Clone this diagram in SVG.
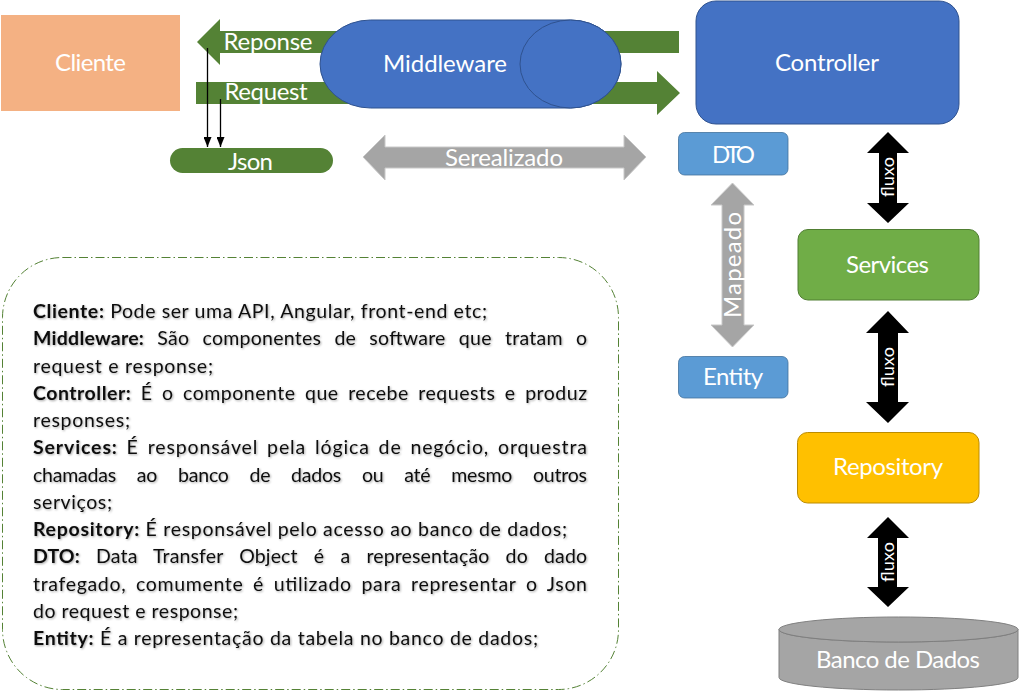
<svg xmlns="http://www.w3.org/2000/svg" width="1021" height="695" viewBox="0 0 1021 695">
<defs>
<style>
.lbl{font-family:Lato,"Open Sans","Liberation Sans",sans-serif;fill:#fff;text-anchor:middle;font-size:24px}
.flx{font-family:Lato,"Open Sans","Liberation Sans",sans-serif;fill:#fff;text-anchor:middle;font-size:18px}
.body{font-family:Lato,"Open Sans","Liberation Sans",sans-serif;fill:#111;font-size:19.5px}
.b{font-weight:bold}
.green{fill:#548235}
.blk{fill:#000}
</style>
<marker id="ah" viewBox="0 0 10 8" refX="10" refY="4" markerWidth="10" markerHeight="8" markerUnits="userSpaceOnUse" orient="auto">
<path d="M0,0 L10,4 L0,8 Z" fill="#000"/>
</marker>
<filter id="sh" x="-5%" y="-5%" width="110%" height="110%">
<feDropShadow dx="1" dy="1" stdDeviation="0.8" flood-color="#000" flood-opacity="0.35"/>
</filter>
</defs>
<rect width="1021" height="695" fill="#fff"/>

<g id="connectors">
<polygon id="reponse-arrow" class="green" points="679,31 220,31 220,19 197,42 220,65 220,53 679,53"/>
<polygon id="request-arrow" class="green" points="196,82 657,82 657,71 680,93 657,115 657,104 196,104"/>
<line x1="207.5" y1="48" x2="207.5" y2="147" stroke="#000" stroke-width="1.3" marker-end="url(#ah)"/>
<line x1="220.5" y1="99" x2="220.5" y2="147" stroke="#000" stroke-width="1.3" marker-end="url(#ah)"/>
<polygon id="serealizado" points="363,157 385,135 385,147 624,147 624,135 646,157 624,180 624,168 385,168 385,180" fill="#A5A5A5" stroke="#C8C8C8" stroke-width="1"/>
<polygon id="mapeado" points="732.5,183 754,205 744,205 744,325 754,325 732.5,347 711,325 722,325 722,205 711,205" fill="#A5A5A5" stroke="#C8C8C8" stroke-width="1"/>
<polygon class="blk" points="888,132 909,153 897,153 897,203 909,203 888,223 867,203 879,203 879,153 867,153"/>
<polygon class="blk" points="888,311 909,333 898,333 898,402 909,402 888,423 866,402 878,402 878,333 866,333"/>
<polygon class="blk" points="888,517 909,538 897,538 897,587 909,587 888,607 867,587 878,587 878,538 867,538"/>
<text class="lbl" x="268" y="50" textLength="89">Reponse</text>
<text class="lbl" x="266" y="100" textLength="83">Request</text>
<text class="lbl" x="504" y="166" textLength="118">Serealizado</text>
<text class="lbl" transform="translate(741,265) rotate(-90)" font-size="27" textLength="106">Mapeado</text>
<text class="flx" transform="translate(894,177) rotate(-90)" textLength="40">fluxo</text>
<text class="flx" transform="translate(894,367) rotate(-90)" textLength="40">fluxo</text>
<text class="flx" transform="translate(894,562) rotate(-90)" textLength="40">fluxo</text>
</g>

<g id="cliente">
<rect x="1" y="15" width="179" height="96" fill="#F4B183"/>
<text class="lbl" x="90.5" y="71" textLength="71">Cliente</text>
</g>

<g id="middleware">
<path d="M370.5,20 L570.5,20 A50.5,44 0 0 1 570.5,108 L370.5,108 A50.5,44 0 0 1 370.5,20 Z" fill="#4472C4" stroke="#2F528F" stroke-width="1"/>
<ellipse cx="570.5" cy="64" rx="50.5" ry="44" fill="#4472C4" stroke="#2F528F" stroke-width="1"/>
<text class="lbl" x="445" y="72" textLength="124">Middleware</text>
</g>

<g id="json">
<rect x="170" y="148" width="163" height="25" rx="12.5" fill="#548235"/>
<text class="lbl" x="250.5" y="170" textLength="45">Json</text>
</g>

<g id="controller">
<rect x="696" y="1" width="263" height="123" rx="20" fill="#4472C4" stroke="#2F528F" stroke-width="1"/>
<text class="lbl" x="827" y="71" textLength="104">Controller</text>
</g>

<g id="dto">
<rect x="678.5" y="132.5" width="109.5" height="42.5" rx="6" fill="#5B9BD5" stroke="#41719C" stroke-width="0.8"/>
<text class="lbl" x="733.5" y="163" textLength="43">DTO</text>
</g>

<g id="entity">
<rect x="678.5" y="356.5" width="109.5" height="41.5" rx="6" fill="#5B9BD5" stroke="#41719C" stroke-width="0.8"/>
<text class="lbl" x="733" y="385" textLength="60">Entity</text>
</g>

<g id="services">
<rect x="798" y="229.5" width="181" height="70.5" rx="10" fill="#70AD47" stroke="#507E32" stroke-width="1"/>
<text class="lbl" x="887.5" y="273" textLength="83">Services</text>
</g>

<g id="repository">
<rect x="797.5" y="432.5" width="181.5" height="70.5" rx="10" fill="#FFC000" stroke="#BC8C00" stroke-width="1"/>
<text class="lbl" x="888" y="475" textLength="110">Repository</text>
</g>

<g id="banco">
<path d="M779,629.5 A119.5,12.5 0 0 0 1018,629.5 L1018,677.5 A119.5,12.5 0 0 1 779,677.5 Z" fill="#A5A5A5" stroke="#7F7F7F" stroke-width="1"/>
<ellipse cx="898.5" cy="629.5" rx="119.5" ry="12.5" fill="#A5A5A5" stroke="#7F7F7F" stroke-width="1"/>
<text class="lbl" x="898" y="668" textLength="164">Banco de Dados</text>
</g>

<g id="legenda">
<rect x="2.5" y="257.5" width="616" height="432" rx="60" fill="#fff" stroke="#548235" stroke-width="1" stroke-dasharray="9 3 1.5 3"/>
<g filter="url(#sh)" class="body">
<text x="33" y="318" textLength="454" lengthAdjust="spacing"><tspan class="b">Cliente:</tspan> Pode ser uma API, Angular, front-end etc;</text>
<text x="33" y="345.25" word-spacing="8" textLength="554" lengthAdjust="spacing"><tspan class="b">Middleware:</tspan> São componentes de software que tratam o</text>
<text x="33" y="372.5" textLength="180" lengthAdjust="spacing">request e response;</text>
<text x="33" y="399.75" word-spacing="4" textLength="554" lengthAdjust="spacing"><tspan class="b">Controller:</tspan> É o componente que recebe requests e produz</text>
<text x="33" y="427" textLength="97" lengthAdjust="spacing">responses;</text>
<text x="33" y="454.25" word-spacing="3" textLength="554" lengthAdjust="spacing"><tspan class="b">Services:</tspan> É responsável pela lógica de negócio, orquestra</text>
<text x="33" y="481.5" word-spacing="16" textLength="554" lengthAdjust="spacing">chamadas ao banco de dados ou até mesmo outros</text>
<text x="33" y="508.75" textLength="79" lengthAdjust="spacing">serviços;</text>
<text x="33" y="536" textLength="534" lengthAdjust="spacing"><tspan class="b">Repository:</tspan> É responsável pelo acesso ao banco de dados;</text>
<text x="33" y="563.25" word-spacing="11" textLength="554" lengthAdjust="spacing"><tspan class="b">DTO:</tspan> Data Transfer Object é a representação do dado</text>
<text x="33" y="590.5" word-spacing="4" textLength="554" lengthAdjust="spacing">trafegado, comumente é utilizado para representar o Json</text>
<text x="33" y="617.75" textLength="205" lengthAdjust="spacing">do request e response;</text>
<text x="33" y="645" textLength="505" lengthAdjust="spacing"><tspan class="b">Entity:</tspan> É a representação da tabela no banco de dados;</text>
</g>
</g>
</svg>
